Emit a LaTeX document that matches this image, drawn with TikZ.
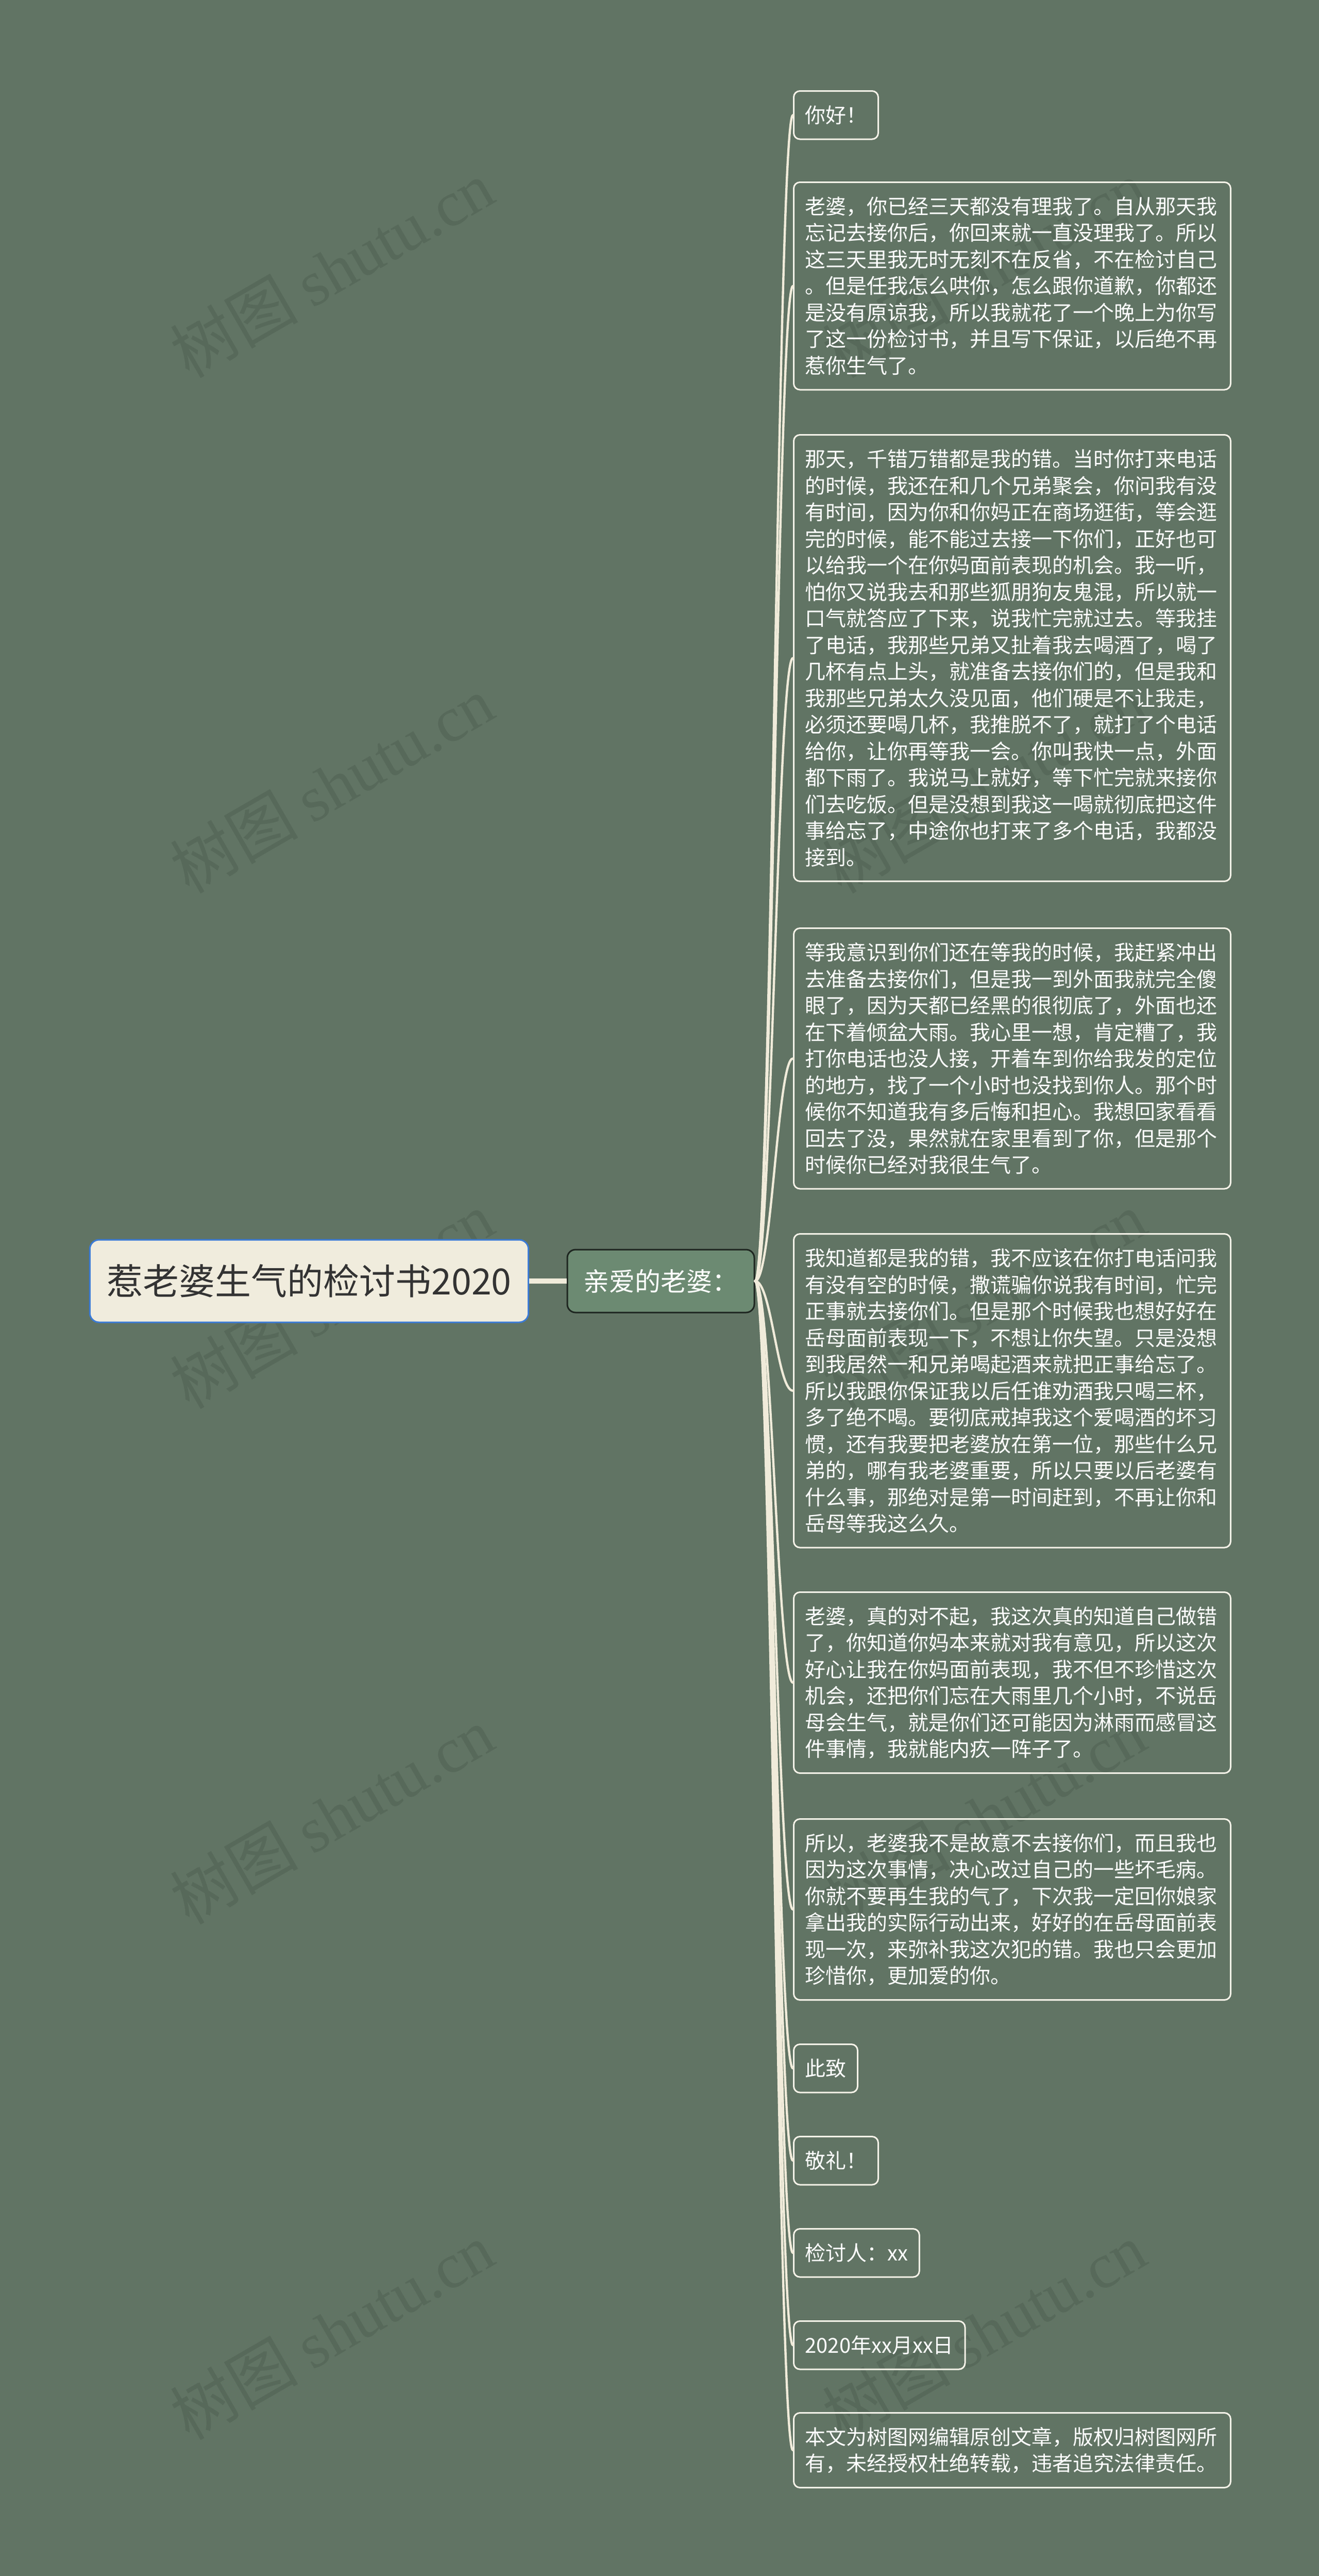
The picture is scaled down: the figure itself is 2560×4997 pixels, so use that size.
\documentclass[tikz,border=0pt]{standalone}
\usepackage{fontspec}
\setmainfont{Noto Sans CJK SC}
\newfontfamily\latinserif{Liberation Serif}
\definecolor{bggreen}{HTML}{617464}
\definecolor{wmgreen}{HTML}{57695A}
\definecolor{creamline}{HTML}{F0EBDA}
\definecolor{leafedge}{HTML}{F5F2E8}
\definecolor{rootcream}{HTML}{F0ECDD}
\definecolor{rootblue}{HTML}{3C7BD6}
\definecolor{rootink}{HTML}{333333}
\definecolor{subgreen}{HTML}{6C8A72}
\definecolor{subedge}{HTML}{1E2620}
\tikzset{
  rootbox/.style={draw=rootblue, line width=1.5pt, fill=rootcream, rounded corners=9pt, text=rootink,
    font=\fontsize{35pt}{42pt}\selectfont, inner xsep=16.5pt, inner ysep=0pt, minimum height=80pt},
  subbox/.style={draw=subedge, line width=1.5pt, fill=subgreen, rounded corners=8pt, text=white,
    font=\fontsize{25pt}{30pt}\selectfont, minimum width=181.5pt, minimum height=61pt, inner sep=0pt},
  leafbox/.style={draw=leafedge, line width=1.5pt, rounded corners=6pt, text=white,
    font=\fontsize{20pt}{25.75pt}\selectfont, inner xsep=11pt, inner ysep=0pt, minimum height=46.75pt,
    anchor=north west},
  parabox/.style={leafbox, text width=402pt, align=left, minimum height=#1*25.75pt+21pt},
  branch/.style={draw=creamline, line width=2.2pt, line cap=round},
  trunk/.style={draw=creamline, line width=5pt},
  watermark/.style={text=wmgreen, rotate=30, font=\fontsize{62pt}{70pt}\selectfont}
}
\begin{document}
\begin{tikzpicture}[x=0.5pt,y=-0.5pt]
      \useasboundingbox (0,0) rectangle (2560,4997);
      \fill[bggreen] (0,0) rectangle (2560,4997);
      % watermarks
      \node[watermark] (wm1) at (644,522) {树图 {\latinserif shutu.cn}};
      \node[watermark] (wm2) at (644,1522) {树图 {\latinserif shutu.cn}};
      \node[watermark] (wm3) at (644,2522) {树图 {\latinserif shutu.cn}};
      \node[watermark] (wm4) at (644,3522) {树图 {\latinserif shutu.cn}};
      \node[watermark] (wm5) at (644,4522) {树图 {\latinserif shutu.cn}};
      \node[watermark] (wm6) at (1910,522) {树图 {\latinserif shutu.cn}};
      \node[watermark] (wm7) at (1910,1522) {树图 {\latinserif shutu.cn}};
      \node[watermark] (wm8) at (1910,2522) {树图 {\latinserif shutu.cn}};
      \node[watermark] (wm9) at (1910,3522) {树图 {\latinserif shutu.cn}};
      \node[watermark] (wm10) at (1910,4522) {树图 {\latinserif shutu.cn}};
      % root and first level
      \node[rootbox] (root) at (600,2485) {惹老婆生气的检讨书2020};
      \node[subbox] (mid) at (1282.5,2485) {亲爱的老婆：};
      \draw[trunk] (root.east) -- (mid.west);
      % leaves
      \node[leafbox] (l1) at (1539,175) {你好！};
      \node[parabox=7] (l2) at (1539,352) {老婆，你已经三天都没有理我了。自从那天我\\忘记去接你后，你回来就一直没理我了。所以\\这三天里我无时无刻不在反省，不在检讨自己\\。但是任我怎么哄你，怎么跟你道歉，你都还\\是没有原谅我，所以我就花了一个晚上为你写\\了这一份检讨书，并且写下保证，以后绝不再\\惹你生气了。};
      \node[parabox=16] (l3) at (1539,842) {那天，千错万错都是我的错。当时你打来电话\\的时候，我还在和几个兄弟聚会，你问我有没\\有时间，因为你和你妈正在商场逛街，等会逛\\完的时候，能不能过去接一下你们，正好也可\\以给我一个在你妈面前表现的机会。我一听，\\怕你又说我去和那些狐朋狗友鬼混，所以就一\\口气就答应了下来，说我忙完就过去。等我挂\\了电话，我那些兄弟又扯着我去喝酒了，喝了\\几杯有点上头，就准备去接你们的，但是我和\\我那些兄弟太久没见面，他们硬是不让我走，\\必须还要喝几杯，我推脱不了，就打了个电话\\给你，让你再等我一会。你叫我快一点，外面\\都下雨了。我说马上就好，等下忙完就来接你\\们去吃饭。但是没想到我这一喝就彻底把这件\\事给忘了，中途你也打来了多个电话，我都没\\接到。};
      \node[parabox=9] (l4) at (1539,1799) {等我意识到你们还在等我的时候，我赶紧冲出\\去准备去接你们，但是我一到外面我就完全傻\\眼了，因为天都已经黑的很彻底了，外面也还\\在下着倾盆大雨。我心里一想，肯定糟了，我\\打你电话也没人接，开着车到你给我发的定位\\的地方，找了一个小时也没找到你人。那个时\\候你不知道我有多后悔和担心。我想回家看看\\回去了没，果然就在家里看到了你，但是那个\\时候你已经对我很生气了。};
      \node[parabox=11] (l5) at (1539,2392) {我知道都是我的错，我不应该在你打电话问我\\有没有空的时候，撒谎骗你说我有时间，忙完\\正事就去接你们。但是那个时候我也想好好在\\岳母面前表现一下，不想让你失望。只是没想\\到我居然一和兄弟喝起酒来就把正事给忘了。\\所以我跟你保证我以后任谁劝酒我只喝三杯，\\多了绝不喝。要彻底戒掉我这个爱喝酒的坏习\\惯，还有我要把老婆放在第一位，那些什么兄\\弟的，哪有我老婆重要，所以只要以后老婆有\\什么事，那绝对是第一时间赶到，不再让你和\\岳母等我这么久。};
      \node[parabox=6] (l6) at (1539,3087) {老婆，真的对不起，我这次真的知道自己做错\\了，你知道你妈本来就对我有意见，所以这次\\好心让我在你妈面前表现，我不但不珍惜这次\\机会，还把你们忘在大雨里几个小时，不说岳\\母会生气，就是你们还可能因为淋雨而感冒这\\件事情，我就能内疚一阵子了。};
      \node[parabox=6] (l7) at (1539,3527) {所以，老婆我不是故意不去接你们，而且我也\\因为这次事情，决心改过自己的一些坏毛病。\\你就不要再生我的气了，下次我一定回你娘家\\拿出我的实际行动出来，好好的在岳母面前表\\现一次，来弥补我这次犯的错。我也只会更加\\珍惜你，更加爱的你。};
      \node[leafbox] (l8) at (1539,3964) {此致};
      \node[leafbox] (l9) at (1539,4143) {敬礼！};
      \node[leafbox] (l10) at (1539,4322) {检讨人：xx};
      \node[leafbox] (l11) at (1539,4501) {2020年xx月xx日};
      \node[parabox=2] (l12) at (1539,4679) {本文为树图网编辑原创文章，版权归树图网所\\有，未经授权杜绝转载，违者追究法律责任。};
      % branches
      \draw[branch] (mid.east) .. controls +(32,0) and +(-30,0) .. (l1.west);
      \draw[branch] (mid.east) .. controls +(32,0) and +(-30,0) .. (l2.west);
      \draw[branch] (mid.east) .. controls +(32,0) and +(-30,0) .. (l3.west);
      \draw[branch] (mid.east) .. controls +(32,0) and +(-30,0) .. (l4.west);
      \draw[branch] (mid.east) .. controls +(32,0) and +(-30,0) .. (l5.west);
      \draw[branch] (mid.east) .. controls +(32,0) and +(-30,0) .. (l6.west);
      \draw[branch] (mid.east) .. controls +(32,0) and +(-30,0) .. (l7.west);
      \draw[branch] (mid.east) .. controls +(32,0) and +(-30,0) .. (l8.west);
      \draw[branch] (mid.east) .. controls +(32,0) and +(-30,0) .. (l9.west);
      \draw[branch] (mid.east) .. controls +(32,0) and +(-30,0) .. (l10.west);
      \draw[branch] (mid.east) .. controls +(32,0) and +(-30,0) .. (l11.west);
      \draw[branch] (mid.east) .. controls +(32,0) and +(-30,0) .. (l12.west);
    \end{tikzpicture}
\end{document}
